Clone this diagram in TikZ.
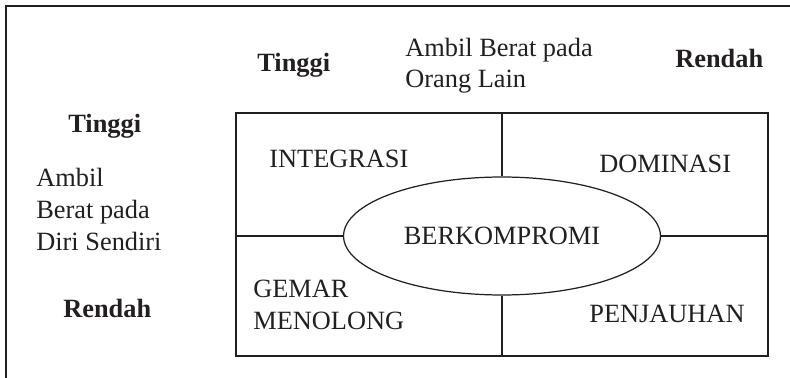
\documentclass[tikz,border=0pt]{standalone}
\usepackage{fontspec}
\setmainfont{Liberation Serif}
\usetikzlibrary{shapes.geometric}
\definecolor{ink}{RGB}{35,31,32}

\begin{document}
\begin{tikzpicture}[x=0.02cm,y=-0.02cm,
	txt/.style={inner sep=0pt,anchor=base west,align=left,text=ink,font=\fontsize{15}{18.2}\selectfont},
	hdr/.style={txt,font=\fontsize{15}{18.2}\selectfont\bfseries},
	rule/.style={draw=ink,line width=0.7pt}]
	\useasboundingbox (0,0) rectangle (790,378);

	% outer frame
	\coordinate (frameBL) at (6,378);
	\coordinate (frameTL) at (6,6);
	\coordinate (frameTR) at (790,6);
	\draw[draw=ink,line width=1.1pt] (frameBL) -- (frameTL) -- (frameTR);

	% headings
	\node[hdr] (hiOrang) at (257,72) {Tinggi};
	\node[txt] (orang) at (405,88) {Ambil Berat pada\\Orang Lain};
	\node[hdr] (loOrang) at (675,68) {Rendah};
	\node[hdr] (hiDiri) at (68,133) {Tinggi};
	\node[txt] (diri) at (36,250) {Ambil\\Berat pada\\Diri Sendiri};
	\node[hdr] (loDiri) at (63,317) {Rendah};

	% grid
	\coordinate (nw) at (236,113);
	\coordinate (se) at (768,356);
	\coordinate (n) at (502,113);
	\coordinate (s) at (502,356);
	\coordinate (w) at (236,236);
	\coordinate (e) at (768,236);
	\draw[rule] (nw) rectangle (se);

	\node[ellipse,rule,fill=white,inner sep=0pt,minimum width=6.34cm,minimum height=2.36cm,
		text=ink,font=\fontsize{15}{18.2}\selectfont] (kompromi) at (502,236) {BERKOMPROMI};

	\draw[rule] (n) -- (kompromi.north);
	\draw[rule] (kompromi.south) -- (s);
	\draw[rule] (w) -- (kompromi.west);
	\draw[rule,line width=1.4pt] (kompromi.east) -- (e);

	% quadrants
	\node[txt] (integrasi) at (269,168) {INTEGRASI};
	\node[txt] (dominasi) at (599,173) {DOMINASI};
	\node[txt] (gemar) at (253,329) {GEMAR\\MENOLONG};
	\node[txt] (penjauhan) at (589,322) {PENJAUHAN};
\end{tikzpicture}
\end{document}
